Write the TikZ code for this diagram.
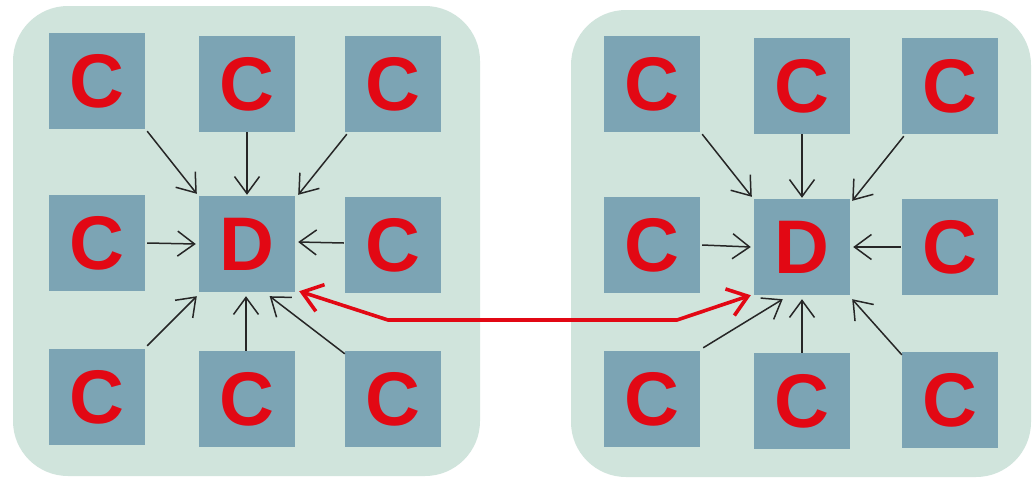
\documentclass[tikz,border=0pt]{standalone}
\usepackage{fontspec}
\setmainfont{Liberation Sans}
\usetikzlibrary{arrows.meta,calc}
\definecolor{panel}{RGB}{208,228,220}
\definecolor{tile}{RGB}{124,164,180}
\definecolor{letter}{RGB}{226,8,20}
\begin{document}
\begin{tikzpicture}[x=1pt,y=-1pt,
  panelbox/.style={fill=panel, rounded corners=55pt},
  tile/.style={fill=tile, minimum size=96pt, inner sep=0pt,
    font=\fontsize{76}{76}\selectfont\bfseries, text=letter},
  feed/.style={draw=black!85, line width=1.5pt,
    -{Straight Barb[length=17pt,width=25pt,line width=1.5pt]}},
  link/.style={draw=letter, line width=3.6pt, line join=round,
    {Straight Barb[length=19pt,width=28pt,line width=3.6pt]}-{Straight Barb[length=19pt,width=28pt,line width=3.6pt]}}]
\useasboundingbox (0,0) rectangle (1034,480);
\fill[white] (0,0) rectangle (1034,480);

% two clusters
\path[panelbox] (13,6) rectangle (480,476);
\path[panelbox] (571,10) rectangle (1031,477);

% left cluster
\node[tile] (la) at (97,81)  {C};
\node[tile] (lb) at (247,84) {C};
\node[tile] (lc) at (393,84) {C};
\node[tile] (ld) at (97,243) {C};
\node[tile] (lD) at (247,244) {D};
\node[tile] (le) at (393,245) {C};
\node[tile] (lf) at (97,397) {C};
\node[tile] (lg) at (247,399) {C};
\node[tile] (lh) at (393,399) {C};

% right cluster
\node[tile] (ra) at (652,84)  {C};
\node[tile] (rb) at (802,86)  {C};
\node[tile] (rc) at (950,86)  {C};
\node[tile] (rd) at (652,245) {C};
\node[tile] (rD) at (802,247) {D};
\node[tile] (re) at (950,247) {C};
\node[tile] (rf) at (652,399) {C};
\node[tile] (rg) at (802,401) {C};
\node[tile] (rh) at (950,400) {C};

% feeds into the left D
\draw[feed] ($(la.south east)+(2,2)$) -- ($(lD.north west)+(-2,-2)$);
\draw[feed] (lb.south) -- ($(lD.north)+(0,-1)$);
\draw[feed] ($(lc.south west)+(2,2)$) -- ($(lD.north east)+(3,-1)$);
\draw[feed] ($(ld.east)+(2,0)$) -- ($(lD.west)+(-3,0)$);
\draw[feed] ($(le.west)+(-1,-2)$) -- ($(lD.east)+(3,-2)$);
\draw[feed] ($(lf.north east)+(2,-3)$) -- ($(lD.south west)+(-2,4)$);
\draw[feed] ($(lg.north)+(-1,0)$) -- ($(lD.south)+(-1,4)$);
\draw[feed] ($(lh.north west)+(0,3)$) -- ($(lD.south)!0.47!(lD.south east)+(0,4)$);

% feeds into the right D
\draw[feed] ($(ra.south east)+(2,2)$) -- ($(rD.north west)+(-2,-2)$);
\draw[feed] (rb.south) -- ($(rD.north)+(0,-1)$);
\draw[feed] ($(rc.south west)+(2,2)$) -- ($(rD.north east)+(2,2)$);
\draw[feed] ($(rd.east)+(2,0)$) -- ($(rD.west)+(-3,0)$);
\draw[feed] ($(re.west)+(-1,0)$) -- ($(rD.east)+(3,0)$);
\draw[feed] ($(rf.north east)+(3,-3)$) -- ($(rD.south west)!0.3!(rD.south east)+(0,4)$);
\draw[feed] ($(rg.north)+(0,0)$) -- ($(rD.south)+(0,4)$);
\draw[feed] ($(rh.north west)+(0,3)$) -- ($(rD.south east)+(2,4)$);

% link between the two D nodes
\coordinate (bendL) at (388,320);
\coordinate (bendR) at (677,320);
\draw[link] ($(lD.south east)+(4,-1)$) -- (bendL) -- (bendR) -- ($(rD.south west)+(-3,0)$);
\end{tikzpicture}
\end{document}
